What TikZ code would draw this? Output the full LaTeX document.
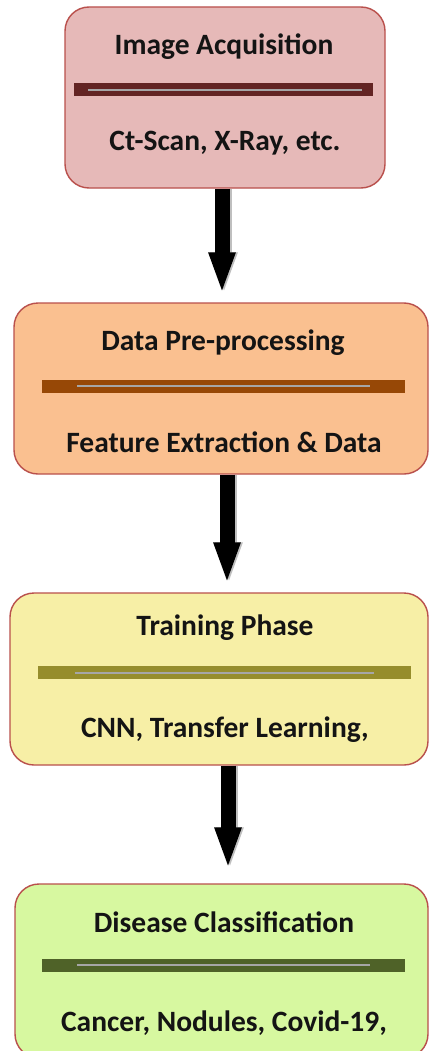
\documentclass[tikz,border=0pt]{standalone}
\usepackage{fontspec}
\setmainfont{Carlito}
\usetikzlibrary{arrows.meta}
\definecolor{boxborder}{HTML}{B9504C}
\definecolor{fillA}{HTML}{E6B9B8}
\definecolor{barA}{HTML}{632423}
\definecolor{fillB}{HTML}{FAC090}
\definecolor{barB}{HTML}{974806}
\definecolor{fillC}{HTML}{F7EFA6}
\definecolor{barC}{HTML}{968D2C}
\definecolor{fillD}{HTML}{D7F8A0}
\definecolor{barD}{HTML}{4F6228}
\definecolor{innerline}{HTML}{A6A6A6}
\definecolor{txt}{HTML}{141414}
\begin{document}
\begin{tikzpicture}[x=1pt,y=-1pt,
  box/.style={draw=boxborder, line width=1.4pt, rounded corners=24pt, inner sep=0pt},
  lbl/.style={font=\fontsize{29.5}{34}\selectfont\bfseries, text=txt, inner sep=0pt},
  bar/.style={inner sep=0pt, minimum height=13pt},
  inner/.style={draw=innerline, line width=2pt},
  arr/.style={line width=15pt, -{Triangle[length=42pt,width=24pt]}},
  arrshadow/.style={arr, draw=black!25, xshift=2pt}
]
\path[fill=white, use as bounding box] (0,0) rectangle (429,1051);

% Box 1
\node[box, fill=fillA, minimum width=320pt, minimum height=181pt] (b1) at (225,97.5) {};
\node[lbl] (t1) at (224,47) {Image Acquisition};
\node[bar, fill=barA, minimum width=299pt] (r1) at (223.5,90) {};
\draw[inner] ([xshift=14pt]r1.west) -- ([xshift=-11pt]r1.east);
\node[lbl] (s1) at (225,143) {Ct-Scan, X-Ray, etc.};

% Box 2
\node[box, fill=fillB, minimum width=414pt, minimum height=171pt] (b2) at (221,388.5) {};
\node[lbl] (t2) at (223,343) {Data Pre-processing};
\node[bar, fill=barB, minimum width=363pt] (r2) at (223.5,386) {};
\draw[inner] ([xshift=35pt]r2.west) -- ([xshift=-35pt]r2.east);
\node[lbl] (s2) at (224,442) {Feature Extraction \& Data};

% Box 3
\node[box, fill=fillC, minimum width=418pt, minimum height=172pt] (b3) at (219,679) {};
\node[lbl] (t3) at (225,628) {Training Phase};
\node[bar, fill=barC, minimum width=373pt] (r3) at (224.5,672.5) {};
\draw[inner] ([xshift=37pt]r3.west) -- ([xshift=-37pt]r3.east);
\node[lbl] (s3) at (225,730) {CNN, Transfer Learning,};

% Box 4 (cut by the lower edge)
\node[box, fill=fillD, minimum width=413pt, minimum height=174pt] (b4) at (221.5,971) {};
\node[lbl] (t4) at (224,922) {Disease Classification};
\node[bar, fill=barD, minimum width=363pt] (r4) at (223.5,965) {};
\draw[inner] ([xshift=35pt]r4.west) -- ([xshift=-35pt]r4.east);
\node[lbl] (s4) at (224,1023) {Cancer, Nodules, Covid-19,};

% Arrows
\draw[arrshadow] (b1.south -| 222,0) -- ([yshift=8pt]b2.north -| 222,0);
\draw[arr] (b1.south -| 222,0) -- ([yshift=8pt]b2.north -| 222,0);
\draw[arrshadow] (b2.south -| 227,0) -- ([yshift=8pt]b3.north -| 227,0);
\draw[arr] (b2.south -| 227,0) -- ([yshift=8pt]b3.north -| 227,0);
\draw[arrshadow] (b3.south -| 228,0) -- ([yshift=14pt]b4.north -| 228,0);
\draw[arr] (b3.south -| 228,0) -- ([yshift=14pt]b4.north -| 228,0);
\end{tikzpicture}
\end{document}
